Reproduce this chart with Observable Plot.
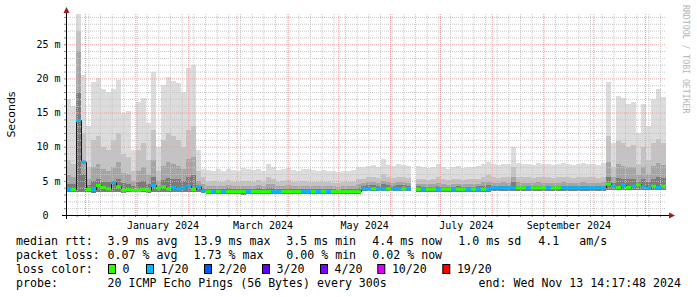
<!DOCTYPE html>
<html><head><meta charset="utf-8">
<script src="https://cdn.jsdelivr.net/npm/d3@7"></script>
<script src="https://cdn.jsdelivr.net/npm/@observablehq/plot@0.6"></script>
<style>
body{margin:0;background:#fff;}
#chart{width:697px;height:297px;overflow:hidden;background:#fff;}
#chart svg{display:block;}
</style></head><body><div id="chart"></div>
<script>
// ---- data (3-day bins over the last 360 days) ----
const endLabel = "2024-11-13T14:17:48Z";
const spanDays = 360;
const binDays = 3;

const maxMs = [
 17.0,16.0,29.4,20.5,13.0,19.5,20.0,18.5,18.0,18.5,
 19.7,15.0,15.2,9.5,16.5,17.2,13.5,21.0,10.0,19.0,
 20.2,19.6,19.4,18.0,21.5,22.0,9.5,6.8,
 6.6,6.5,6.7,6.4,6.8,6.6,6.5,6.9,6.7,6.6,
 6.8,6.5,7.4,7.0,6.6,6.7,6.9,6.6,6.5,6.8,
 6.7,6.6,6.4,6.6,6.5,6.4,6.3,6.4,6.5,6.6,
 7.0,
 7.0,7.2,7.3,7.1,8.2,7.3,7.2,7.4,7.3,7.2,
 NaN,
 7.2,7.0,6.9,7.1,7.5,7.0,6.8,7.0,7.2,6.9,
 7.1,7.0,7.2,7.5,7.8,7.4,7.3,7.5,7.4,10.0,
 7.6,7.4,7.5,7.3,7.6,7.4,7.5,7.3,7.4,7.6,
 7.5,7.3,7.4,7.6,7.5,7.4,7.3,7.6,
 19.5,10.5,17.4,17.2,16.3,16.5,12.0,16.3,13.0,17.0,18.4,17.3
];
const p80Ms = [
 8.0,7.5,27.0,12.0,7.0,11.0,11.5,10.0,9.5,11.0,
 12.0,9.0,8.5,6.5,9.5,10.5,8.0,12.5,6.5,11.0,
 12.0,11.5,11.0,10.0,12.5,13.0,6.5,5.5,
 4.9,5.0,4.8,4.9,5.1,4.9,4.8,5.0,5.0,4.9,
 5.1,4.8,5.6,5.3,4.9,5.0,5.1,4.9,4.8,5.0,
 4.9,4.9,4.8,4.9,4.8,4.7,4.7,4.8,4.8,4.9,
 5.2,
 5.3,5.5,5.5,5.4,6.0,5.5,5.4,5.6,5.5,5.4,
 NaN,
 5.3,5.2,5.1,5.2,5.5,5.2,5.1,5.2,5.3,5.1,
 5.2,5.2,5.3,5.6,5.8,5.5,5.4,5.6,5.5,7.0,
 5.6,5.5,5.5,5.4,5.6,5.5,5.5,5.4,5.5,5.6,
 5.5,5.4,5.5,5.6,5.5,5.5,5.4,5.6,
 11.5,7.0,10.8,10.5,10.0,10.2,7.5,10.0,8.0,10.5,11.2,10.6
];
const p65Ms = [
 5.8,5.5,24.0,8.0,5.2,7.0,7.5,6.8,6.5,7.0,
 7.8,6.2,6.0,5.0,6.5,7.0,5.8,8.0,5.0,7.2,
 7.8,7.5,7.2,6.8,8.2,8.5,5.0,4.6,
 4.3,4.3,4.2,4.3,4.4,4.3,4.2,4.3,4.3,4.3,
 4.4,4.2,4.6,4.5,4.3,4.3,4.4,4.3,4.2,4.3,
 4.3,4.3,4.2,4.3,4.2,4.2,4.1,4.2,4.2,4.3,
 4.5,
 4.7,4.8,4.8,4.7,5.0,4.8,4.7,4.9,4.8,4.7,
 NaN,
 4.6,4.5,4.5,4.5,4.7,4.5,4.4,4.5,4.6,4.5,
 4.5,4.5,4.6,4.8,4.9,4.7,4.7,4.8,4.7,5.5,
 4.8,4.7,4.7,4.7,4.8,4.7,4.7,4.7,4.7,4.8,
 4.7,4.7,4.7,4.8,4.7,4.7,4.7,4.8,
 7.8,5.5,7.4,7.2,7.0,7.1,5.8,7.0,6.0,7.2,7.6,7.3
];
const p55Ms = [
 4.6,4.5,18.0,6.0,4.4,5.0,5.2,4.9,4.8,5.0,
 5.3,4.7,4.6,4.3,4.8,5.0,4.6,5.5,4.3,5.1,
 5.4,5.3,5.2,5.0,5.6,5.8,4.3,4.0,
 3.8,3.8,3.8,3.8,3.9,3.8,3.8,3.8,3.8,3.8,
 3.9,3.8,4.0,3.9,3.8,3.8,3.9,3.8,3.8,3.8,
 3.8,3.8,3.8,3.8,3.8,3.8,3.7,3.8,3.8,3.8,
 3.9,
 4.3,4.4,4.4,4.3,4.5,4.4,4.3,4.4,4.4,4.3,
 NaN,
 4.2,4.1,4.1,4.1,4.2,4.1,4.1,4.1,4.2,4.1,
 4.1,4.1,4.2,4.3,4.4,4.3,4.3,4.3,4.3,4.8,
 4.3,4.3,4.3,4.3,4.3,4.3,4.3,4.3,4.3,4.3,
 4.3,4.3,4.3,4.3,4.3,4.3,4.3,4.3,
 5.6,4.7,5.4,5.3,5.2,5.3,4.8,5.2,4.9,5.3,5.5,5.4
];
const minMs = [
 3.3,3.3,3.4,3.3,3.3,3.2,3.3,3.3,3.3,3.3,
 3.3,3.2,3.3,3.3,3.3,3.3,3.2,3.3,3.3,3.3,
 3.3,3.3,3.3,3.3,3.3,3.3,3.3,3.2,
 3.1,3.1,3.1,3.1,3.1,3.1,3.1,3.0,3.1,3.1,
 3.1,3.1,3.1,3.1,3.1,3.1,3.1,3.1,3.1,3.1,
 3.1,3.1,3.1,3.1,3.1,3.1,3.1,3.1,3.1,3.1,
 3.1,
 3.5,3.5,3.5,3.5,3.5,3.5,3.5,3.5,3.5,3.5,
 NaN,
 3.4,3.4,3.4,3.4,3.4,3.4,3.4,3.4,3.4,3.4,
 3.4,3.4,3.4,3.4,3.4,3.5,3.5,3.5,3.5,3.5,
 3.5,3.5,3.5,3.5,3.5,3.5,3.5,3.5,3.5,3.5,
 3.5,3.5,3.5,3.5,3.5,3.5,3.5,3.5,
 3.6,3.6,3.6,3.6,3.6,3.6,3.6,3.6,3.6,3.6,3.6,3.6
];
const medMs = [
 3.8,3.8,13.9,7.8,3.8,3.8,4.4,4.1,3.9,4.8,
 4.2,3.7,3.8,3.7,3.7,3.8,3.7,4.4,4.0,4.2,
 3.9,4.1,3.9,4.0,4.3,3.8,4.2,3.6,
 3.5,3.5,3.5,3.5,3.5,3.5,3.5,3.5,3.5,3.5,
 3.5,3.5,3.5,3.5,3.5,3.5,3.5,3.5,3.5,3.5,
 3.5,3.5,3.5,3.5,3.5,3.5,3.5,3.5,3.5,3.5,
 3.5,
 3.9,3.9,3.9,3.9,3.9,3.9,3.9,3.9,3.9,3.9,
 NaN,
 3.85,3.85,3.85,3.85,3.85,3.85,3.85,3.85,3.85,3.85,
 3.85,3.85,3.85,3.85,3.85,4.05,4.05,4.05,4.05,4.05,
 4.05,4.05,4.05,4.05,4.05,4.05,4.05,4.05,4.05,4.05,
 4.05,4.05,4.05,4.05,4.05,4.05,4.05,4.05,
 4.6,4.3,4.1,4.4,4.1,4.3,4.5,4.2,4.0,4.3,4.1,4.3
];
const lossCount = [
 1,0,1,1,0,1,0,0,0,1,
 0,0,0,0,0,0,0,1,0,0,
 0,1,1,1,1,0,1,1,
 0,1,0,1,0,0,0,0,1,0,
 0,0,0,1,1,0,0,0,0,1,
 1,0,1,0,1,0,0,0,0,0,
 0,
 1,1,0,1,1,0,1,1,0,1,
 0,
 0,1,0,0,1,0,0,1,0,0,
 1,0,1,0,1,1,1,1,1,1,
 0,0,1,0,0,0,1,0,0,1,
 1,1,1,1,1,1,1,1,
 0,1,0,1,0,1,0,1,1,0,1,0
];

// loss legend
const lossSteps  = [0, 1, 2, 3, 4, 10, 19];
const lossLabels = ["0", "1/20", "2/20", "3/20", "4/20", "10/20", "19/20"];
const lossColors = ["#26ff00", "#00b8ff", "#0059ff", "#5e00ff", "#7e00ff", "#dd00ff", "#ff0000"];

// axis
const yMax = 29.43;
const yMinorTicks = d3.range(0, 30, 1);
const yMajorTicks = [0, 5, 10, 15, 20, 25];
const xLabelMonths = ["2024-01-01", "2024-03-01", "2024-05-01", "2024-07-01", "2024-09-01"];

// legend text
const statsRtt  = ["3.9 ms avg", "13.9 ms max", "3.5 ms min", "4.4 ms now", "1.0 ms sd", "4.1", "am/s"];
const statsLoss = ["0.07 % avg", "1.73 % max", "0.00 % min", "0.02 % now"];
const probeText = "20 ICMP Echo Pings (56 Bytes) every 300s";
const endText = "end: Wed Nov 13 14:17:48 2024";

// ---- build ----
const DAY = 864e5;
const endTime = new Date(endLabel);
const start = new Date(endTime.getTime() - spanDays * DAY);
const bins = maxMs.map((_, i) => ({
  t0: new Date(start.getTime() + i * binDays * DAY),
  t1: new Date(start.getTime() + (i + 1) * binDays * DAY),
  max: maxMs[i], p80: p80Ms[i], p65: p65Ms[i], p55: p55Ms[i],
  min: minMs[i], med: medMs[i], loss: lossCount[i]
}));
const weeks = d3.utcSunday.range(start, endTime);
const months = d3.utcMonth.range(start, endTime);
const labelDates = xLabelMonths.map(s => {
  const a = new Date(s + "T00:00:00Z");
  const b = d3.utcMonth.offset(a, 1);
  return new Date((a.getTime() + b.getTime()) / 2);
});

const minorGrid = "#c6c6c6", majorGrid = "#e7a2a2";
const smoke = (y2, fill) => Plot.rect(bins, {x1: "t0", x2: "t1", y1: "min", y2, fill, inset: 0, shapeRendering: "crispEdges"});

const chart = Plot.plot({
  width: 697, height: 232,
  marginLeft: 66, marginRight: 31, marginTop: 14, marginBottom: 17,
  style: {fontFamily: "'DejaVu Sans Mono', monospace", fontSize: "10px", background: "#fff", color: "#000"},
  x: {type: "utc", domain: [start, endTime]},
  y: {domain: [0, yMax]},
  color: {type: "ordinal", domain: lossSteps, range: lossColors},
  marks: [
    smoke("max", "#dcdcdc"),
    smoke("p80", "#c3c3c3"),
    smoke("p65", "#a5a5a5"),
    smoke("p55", "#7b7b7b"),
    Plot.ruleY(yMinorTicks.filter(d => d % 5 !== 0), {stroke: minorGrid, strokeDasharray: "1,1"}),
    Plot.ruleX(weeks, {stroke: minorGrid, strokeDasharray: "1,1"}),
    Plot.ruleY(yMajorTicks.filter(d => d > 0), {stroke: majorGrid, strokeDasharray: "1,1"}),
    Plot.ruleX(months, {stroke: majorGrid, strokeDasharray: "1,1"}),
    Plot.lineY(bins, {x: "t0", y: "med", curve: "step-after", stroke: "#1a1a1a", strokeWidth: 1}),
    Plot.ruleY(bins, {x1: "t0", x2: "t1", y: "med", stroke: "loss", strokeWidth: 3}),
    Plot.axisY(yMinorTicks, {tickSize: 2, tickFormat: () => "", label: null, stroke: "#888"}),
    Plot.axisY(yMajorTicks, {tickSize: 0, tickPadding: 6, label: null,
      tickFormat: d => d === 0 ? "0\u00a0\u00a0" : d + "\u00a0m"}),
    Plot.axisX(weeks, {tickSize: 2, tickFormat: () => "", label: null, stroke: "#888"}),
    Plot.axisX(labelDates, {tickSize: 0, tickPadding: 6, label: null, tickFormat: d3.utcFormat("%B %Y")})
  ]
});

const svg = d3.select(chart);
const xs = chart.scale("x"), ys = chart.scale("y");
const x0 = xs.range[0], x1 = xs.range[1];
const yb = ys.apply(0), yt = ys.range[1];
const g = svg.append("g");
g.append("line").attr("x1", x0 + 0.5).attr("x2", x0 + 0.5).attr("y1", yb + 4).attr("y2", yt - 1)
  .attr("stroke", "#000");
g.append("line").attr("x1", x0 - 4).attr("x2", x1 + 3).attr("y1", yb + 0.5).attr("y2", yb + 0.5)
  .attr("stroke", "#000");
g.append("path").attr("d", `M${x0 + 0.5 - 3},${yt - 1}L${x0 + 0.5 + 3},${yt - 1}L${x0 + 0.5},${yt - 7}Z`).attr("fill", "#9b1c1c");
g.append("path").attr("d", `M${x1 + 3},${yb + 0.5 - 3}L${x1 + 3},${yb + 0.5 + 3}L${x1 + 9},${yb + 0.5}Z`).attr("fill", "#9b1c1c");
g.append("text").attr("transform", `translate(11,${(yb + yt) / 2}) rotate(-90)`)
  .attr("text-anchor", "middle").attr("dominant-baseline", "central")
  .attr("font-family", "'DejaVu Sans', sans-serif").attr("font-size", 11).attr("fill", "#000")
  .text("Seconds");
g.append("text").attr("transform", `translate(686,5) rotate(90)`)
  .attr("text-anchor", "start").attr("dominant-baseline", "central")
  .attr("font-family", "'DejaVu Sans Mono', monospace").attr("font-size", 8.2).attr("fill", "#b4b4b4")
  .text("RRDTOOL / TOBI OETIKER");

document.getElementById("chart").appendChild(chart);

// ---- legend below the plot ----
const leg = d3.select("#chart").append("svg").attr("width", 697).attr("height", 65)
  .style("display", "block");
const rows = [9, 23, 37, 51];
const put = (x, y, s, anchor = "start") => leg.append("text").attr("x", x).attr("y", y)
  .attr("dominant-baseline", "central").attr("text-anchor", anchor).attr("fill", "#000")
  .style("font-family", "'DejaVu Sans Mono', monospace").style("font-size", "11.6px").text(s);
const statX = [107.6, 193.6, 286.3, 372.3, 458.3, 538.3, 579.3];
put(16, rows[0], "median rtt:");
statsRtt.forEach((s, i) => put(statX[i], rows[0], s));
put(16, rows[1], "packet loss:");
statsLoss.forEach((s, i) => put(statX[i], rows[1], s));
put(16, rows[2], "loss color:");
const boxX = [108, 146, 204, 262, 320, 377.3, 442.3];
lossSteps.forEach((s, i) => {
  leg.append("rect").attr("x", boxX[i] + 0.5).attr("y", rows[2] - 4.5).attr("width", 7).attr("height", 9)
    .attr("fill", lossColors[i]).attr("stroke", "#000");
  put(boxX[i] + 14.6, rows[2], lossLabels[i]);
});
put(16, rows[3], "probe:");
put(107.6, rows[3], probeText);
put(681, rows[3], endText, "end");
</script></body></html>
